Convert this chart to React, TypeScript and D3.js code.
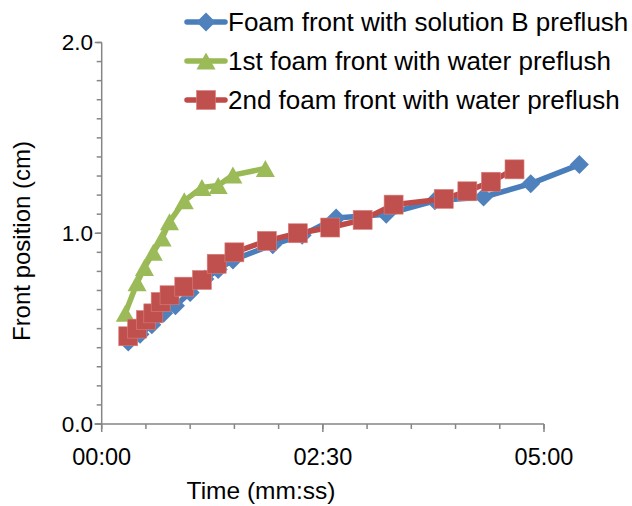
import React from "react";
import * as d3 from "d3";

// Data (time in seconds, front position in cm)
const blueT = [18, 26, 34, 42, 50, 60, 70, 79, 89, 116, 136, 159, 193, 226, 259, 291, 324];
const blueY = [0.43, 0.47, 0.52, 0.58, 0.62, 0.69, 0.76, 0.81, 0.86, 0.94, 0.99, 1.08, 1.10, 1.17, 1.19, 1.26, 1.36];

const greenT = [16, 24, 29, 35, 41, 46, 56, 68, 79, 89, 111];
const greenY = [0.58, 0.74, 0.82, 0.90, 0.975, 1.06, 1.17, 1.24, 1.25, 1.305, 1.34];

const redT = [18, 24, 30, 35, 40, 46, 56, 68, 78, 90, 112, 133, 155, 177, 198, 232, 248, 264, 280];
const redY = [0.46, 0.50, 0.545, 0.58, 0.64, 0.675, 0.72, 0.755, 0.84, 0.90, 0.96, 1.00, 1.03, 1.07, 1.15, 1.18, 1.22, 1.27, 1.335];

const seriesNames = [
  "Foam front with solution B preflush",
  "1st foam front with water preflush",
  "2nd foam front with water preflush",
];

const xMajorTicks = [0, 150, 300];
const yMajorTicks = [0, 1, 2];

const W = 632;
const H = 506;
const FONT = "'Liberation Sans', Arial, sans-serif";

const fmt = (s: number) => {
  const m = Math.floor(s / 60);
  const ss = Math.round(s % 60);
  return `${String(m).padStart(2, "0")}:${String(ss).padStart(2, "0")}`;
};

type Pt = [number, number];

function Marker({ kind, x, y, fill }: { kind: string; x: number; y: number; fill: string }) {
  if (kind === "diamond") {
    const r = 9.5;
    return <path d={`M${x},${y - r}L${x + r},${y}L${x},${y + r}L${x - r},${y}Z`} fill={fill} />;
  }
  if (kind === "triangle") {
    const w = 9.5;
    const h = 8.5;
    return <path d={`M${x},${y - h}L${x + w},${y + h}L${x - w},${y + h}Z`} fill={fill} />;
  }
  const s = 9.5;
  return <rect x={x - s} y={y - s} width={2 * s} height={2 * s} fill={fill} stroke="#d9807e" strokeWidth={0.6} />;
}

export default function App() {
  const x = d3.scaleLinear().domain([0, 300]).range([101.7, 544]);
  const y = d3.scaleLinear().domain([0, 2]).range([424, 42.5]);

  const series = [
    { t: blueT, v: blueY, line: "#4A7EBB", fill: "#4F81BD", kind: "diamond" },
    { t: greenT, v: greenY, line: "#98B954", fill: "#9BBB59", kind: "triangle" },
    { t: redT, v: redY, line: "#BE4B48", fill: "#C0504D", kind: "square" },
  ];

  const lineGen = d3
    .line<Pt>()
    .x((d) => x(d[0]))
    .y((d) => y(d[1]));

  const xMinor = d3.range(0, 301, 30);
  const yMinor = d3.range(0, 2.0001, 0.1);
  const axisColor = "#868686";

  return (
    <svg width={W} height={H} style={{ position: "absolute", left: 0, top: 0, background: "#fff" }}>
      {/* Axes */}
      <g stroke={axisColor} strokeWidth={1.5}>
        <line x1={x(0)} x2={x(0)} y1={y(2)} y2={y(0)} />
        <line x1={x(0) - 7} x2={x(300)} y1={y(0)} y2={y(0)} />
        {yMinor.map((v, i) => (
          <line key={"ym" + i} x1={x(0) - 5} x2={x(0)} y1={y(v)} y2={y(v)} />
        ))}
        {yMajorTicks.map((v, i) => (
          <line key={"yM" + i} x1={x(0) - 7} x2={x(0)} y1={y(v)} y2={y(v)} />
        ))}
        {xMinor.map((v, i) => (
          <line key={"xm" + i} x1={x(v)} x2={x(v)} y1={y(0)} y2={y(0) + 5} />
        ))}
        {xMajorTicks.map((v, i) => (
          <line key={"xM" + i} x1={x(v)} x2={x(v)} y1={y(0)} y2={y(0) + 8} />
        ))}
      </g>
      <g fontFamily={FONT} fill="#000">
        {yMajorTicks.map((v, i) => (
          <text key={"yl" + i} x={93} y={y(v)} textAnchor="end" dominantBaseline="central" fontSize={22.5}>
            {v.toFixed(1)}
          </text>
        ))}
        {xMajorTicks.map((v, i) => (
          <text key={"xl" + i} x={x(v)} y={465} textAnchor="middle" fontSize={23.5}>
            {fmt(v)}
          </text>
        ))}
      </g>
      <text x={261} y={499} textAnchor="middle" fontFamily={FONT} fontSize={24.5}>
        Time (mm:ss)
      </text>
      <text
        transform={`translate(30,241) rotate(-90)`}
        textAnchor="middle"
        fontFamily={FONT}
        fontSize={24}
      >
        Front position (cm)
      </text>

      {/* Series */}
      {series.map((s, si) => {
        const pts: Pt[] = s.t.map((t, i) => [t, s.v[i]]);
        return (
          <g key={"s" + si}>
            <path d={lineGen(pts) || ""} fill="none" stroke={s.line} strokeWidth={5.5} strokeLinejoin="round" strokeLinecap="round" />
            {pts.map((p, i) => (
              <Marker key={i} kind={s.kind} x={x(p[0])} y={y(p[1])} fill={s.fill} />
            ))}
          </g>
        );
      })}

      {/* Legend */}
      {series.map((s, si) => {
        const ly = [22, 61, 100][si];
        return (
          <g key={"lg" + si}>
            <line x1={187} x2={225} y1={ly} y2={ly} stroke={s.line} strokeWidth={5.5} strokeLinecap="round" />
            <Marker kind={s.kind} x={206} y={ly} fill={s.fill} />
            <text x={228} y={ly} dominantBaseline="central" fontFamily={FONT} fontSize={26}>
              {seriesNames[si]}
            </text>
          </g>
        );
      })}
    </svg>
  );
}
